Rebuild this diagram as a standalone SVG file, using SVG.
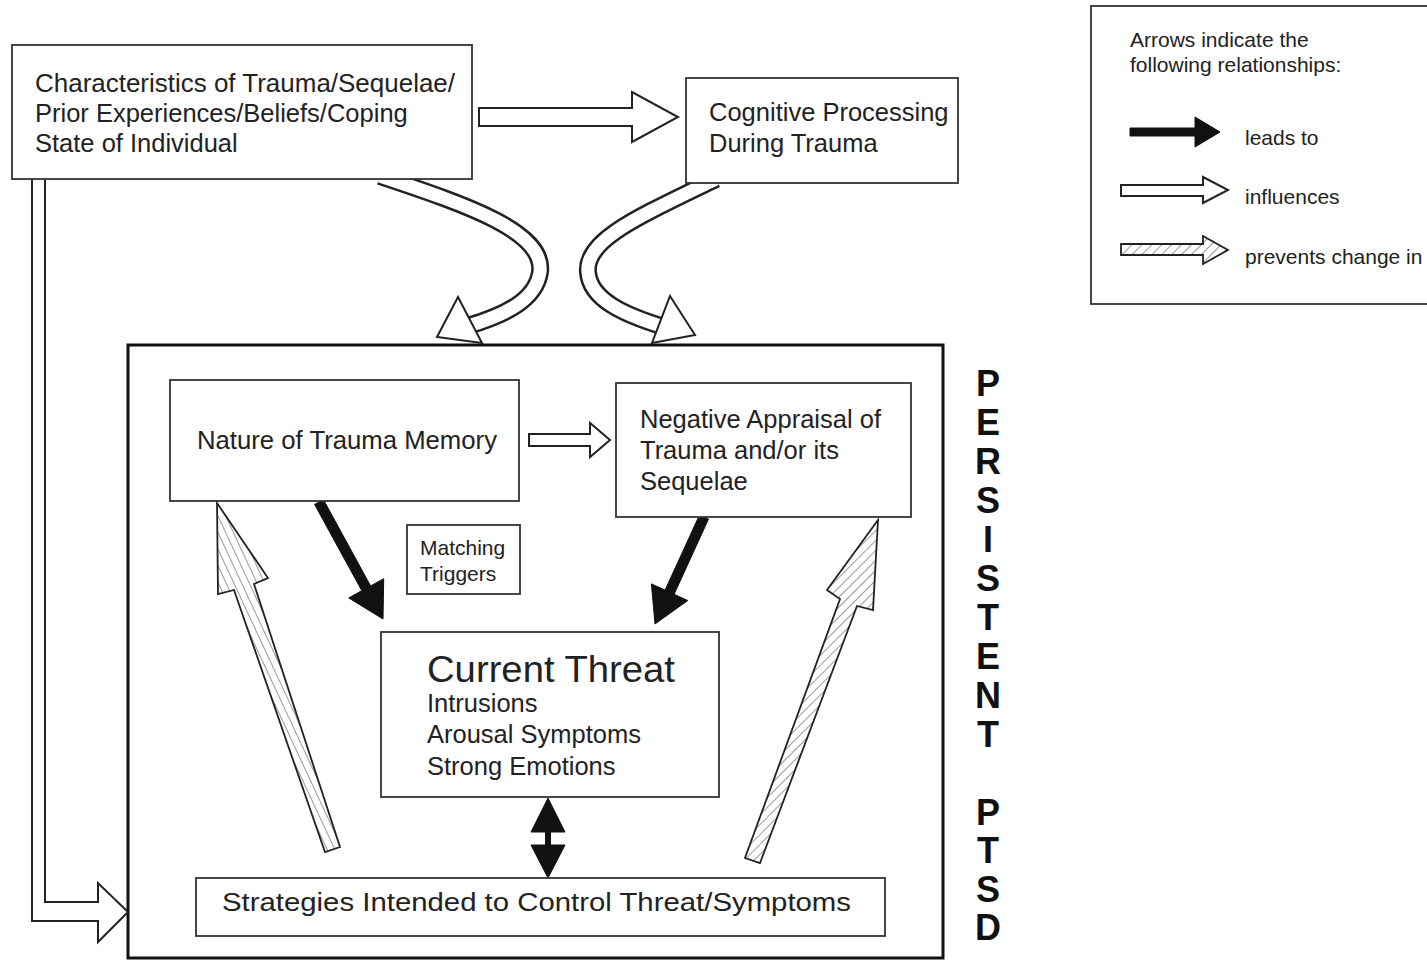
<svg xmlns="http://www.w3.org/2000/svg" width="1427" height="961" viewBox="0 0 1427 961">
<style>
.box{fill:#fff;stroke:#333;stroke-width:1.8}
.big{fill:#fff;stroke:#111;stroke-width:3}
.t{font-family:"Liberation Sans",Arial,sans-serif;font-size:25.5px;fill:#222}
.sm{font-size:21px}
.lg{font-size:37px}
.v{font-family:"Liberation Sans",Arial,sans-serif;font-weight:bold;font-size:36px;fill:#111;text-anchor:middle}
.solid{fill:#111;stroke:#111;stroke-width:1}
.hollow{fill:#fff;stroke:#222;stroke-width:2;stroke-linejoin:miter}
.hatchL{fill:url(#hL);stroke:#222;stroke-width:1.8}
.hatchR{fill:url(#hR);stroke:#222;stroke-width:1.8}
.curveO{fill:none;stroke:#222;stroke-width:18}
.curveI{fill:none;stroke:#fff;stroke-width:13}
</style>
<defs>
<pattern id="hR" width="7" height="7" patternUnits="userSpaceOnUse" patternTransform="rotate(45)"><rect width="7" height="7" fill="#fff"/><line x1="0" y1="0" x2="0" y2="7" stroke="#555" stroke-width="1.2"/></pattern>
<pattern id="hL" width="7" height="7" patternUnits="userSpaceOnUse" patternTransform="rotate(-25)"><rect width="7" height="7" fill="#fff"/><line x1="0" y1="0" x2="0" y2="7" stroke="#555" stroke-width="1.2"/></pattern>
</defs>
<rect width="1427" height="961" fill="#fff"/>
<g id="persistent-ptsd-frame">
<rect class="big" x="128" y="345" width="815" height="613"/>
</g>
<g id="connectors">
<path class="curveO" d="M380,176 C470,206 545,232 540,272 C536,300 505,315 468,326"/>
<path class="curveI" d="M380,176 C470,206 545,232 540,272 C536,300 505,315 468,326"/>
<polygon class="hollow" points="458,297 482,343 437,337"/>
<path class="curveO" d="M716,179 C636,218 585,240 588,272 C590,300 625,315 664,327"/>
<path class="curveI" d="M716,179 C636,218 585,240 588,272 C590,300 625,315 664,327"/>
<polygon class="hollow" points="670,296 695,335 652,343"/>
<polygon class="hollow" points="479,108 632,108 632,92 678,117 632,142 632,126 479,126"/>
<polygon class="hollow" points="529,434 590,434 590,423 610,440 590,457 590,446 529,446"/>
<path class="hollow" d="M32,176 V921 H98 V942 L128,912 L98,883 V902 H45 V176"/>
<polygon class="solid" points="314.6,504.4 361.8,590.7 348.7,597.9 383,619 383.7,578.7 370.6,585.9 323.4,499.6"/>
<polygon class="solid" points="708.5,519.1 674.1,594.3 687.8,600.5 655,624 651.4,583.9 665.1,590.1 699.5,514.9"/>
<polygon class="solid" points="548,798 565,832 550.5,832 550.5,845 565,845 548,878 531,845 545.5,845 545.5,832 531,832"/>
<polygon class="hatchL" points="217,503 268,578 254,584 340,847 325,852 234,590 218,594"/>
<polygon class="hatchR" points="878,520 873,610 857,606 760,863 745,858 840,599 827,590"/>
</g>
<g id="characteristics">
<rect class="box" x="12" y="45" width="460" height="134"/>
<text class="t" x="35" y="92" textLength="420" lengthAdjust="spacingAndGlyphs">Characteristics of Trauma/Sequelae/</text>
<text class="t" x="35" y="122">Prior Experiences/Beliefs/Coping</text>
<text class="t" x="35" y="152">State of Individual</text>
</g>
<g id="cognitive-processing">
<rect class="box" x="686" y="78" width="272" height="105"/>
<text class="t" x="709" y="121">Cognitive Processing</text>
<text class="t" x="709" y="152">During Trauma</text>
</g>
<g id="nature-memory">
<rect class="box" x="170" y="380" width="349" height="121"/>
<text class="t" x="197" y="449" textLength="300" lengthAdjust="spacingAndGlyphs">Nature of Trauma Memory</text>
</g>
<g id="negative-appraisal">
<rect class="box" x="616" y="383" width="295" height="134"/>
<text class="t" x="640" y="428">Negative Appraisal of</text>
<text class="t" x="640" y="459">Trauma and/or its</text>
<text class="t" x="640" y="490">Sequelae</text>
</g>
<g id="matching-triggers">
<rect class="box" x="407" y="525" width="113" height="69"/>
<text class="t sm" x="420" y="555">Matching</text>
<text class="t sm" x="420" y="581">Triggers</text>
</g>
<g id="current-threat">
<rect class="box" x="381" y="632" width="338" height="165"/>
<text class="t lg" x="427" y="682" textLength="248" lengthAdjust="spacingAndGlyphs">Current Threat</text>
<text class="t" x="427" y="712">Intrusions</text>
<text class="t" x="427" y="743">Arousal Symptoms</text>
<text class="t" x="427" y="775">Strong Emotions</text>
</g>
<g id="strategies">
<rect class="box" x="196" y="878" width="689" height="58"/>
<text class="t" x="222" y="911" textLength="629" lengthAdjust="spacingAndGlyphs">Strategies Intended to Control Threat/Symptoms</text>
</g>
<g id="persistent-ptsd-label">
<text class="v" x="988" y="396">P</text>
<text class="v" x="988" y="435">E</text>
<text class="v" x="988" y="474">R</text>
<text class="v" x="988" y="513">S</text>
<text class="v" x="988" y="552">I</text>
<text class="v" x="988" y="591">S</text>
<text class="v" x="988" y="630">T</text>
<text class="v" x="988" y="669">E</text>
<text class="v" x="988" y="708">N</text>
<text class="v" x="988" y="747">T</text>
<text class="v" x="988" y="825">P</text>
<text class="v" x="988" y="863">T</text>
<text class="v" x="988" y="902">S</text>
<text class="v" x="988" y="940">D</text>
</g>
<g id="legend">
<rect class="box" x="1091" y="6" width="360" height="298" stroke-width="2"/>
<text class="t sm" x="1130" y="47">Arrows indicate the</text>
<text class="t sm" x="1130" y="72">following relationships:</text>
<polygon class="solid" points="1130,128 1195,128 1195,117 1220,132 1195,147 1195,136 1130,136"/>
<text class="t sm" x="1245" y="145">leads to</text>
<polygon class="hollow" points="1121,185 1203,185 1203,177 1228,190 1203,203 1203,196 1121,196"/>
<text class="t sm" x="1245" y="204">influences</text>
<polygon class="hatchR" points="1121,244 1203,244 1203,236 1228,250 1203,264 1203,255 1121,255"/>
<text class="t sm" x="1245" y="264">prevents change in</text>
</g>
</svg>
